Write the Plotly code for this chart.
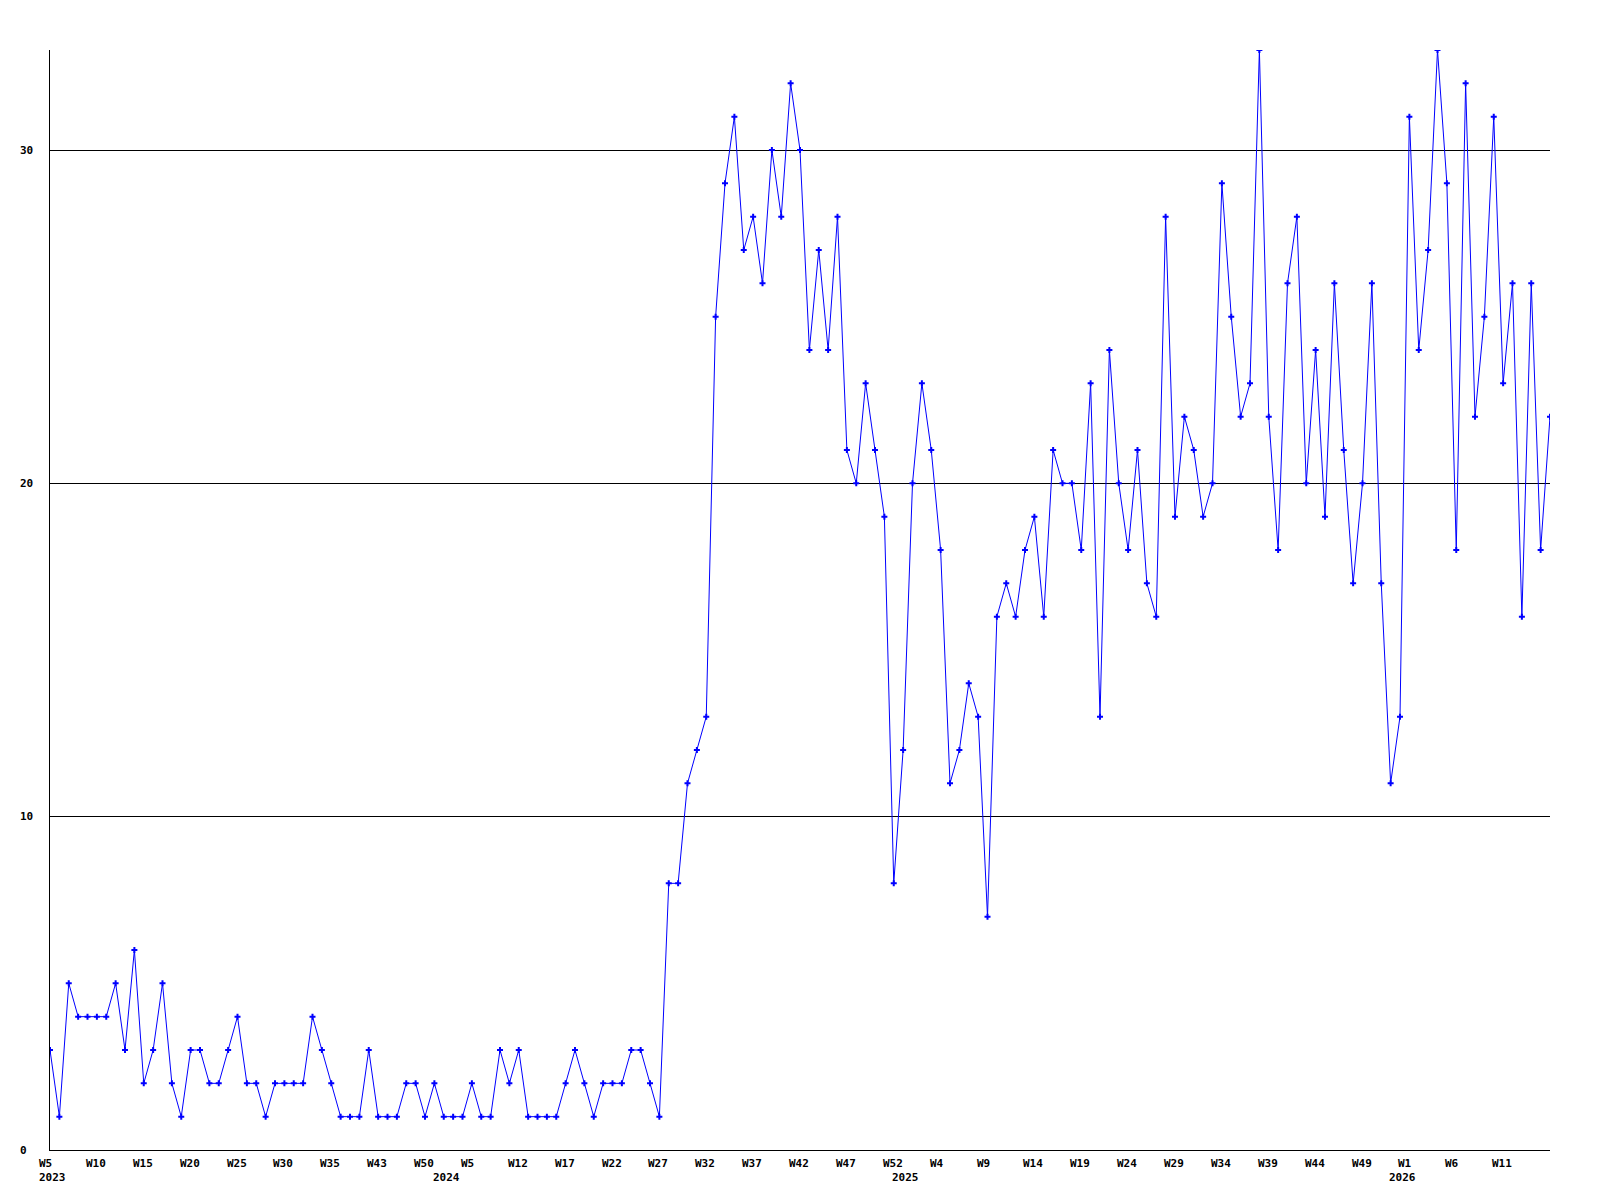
import plotly.graph_objects as go

# Weekly values, 2023 W5 .. 2026 (161 points)
values = [
    3, 1, 5, 4, 4, 4, 4, 5, 3, 6,
    2, 3, 5, 2, 1, 3, 3, 2, 2, 3,
    4, 2, 2, 1, 2, 2, 2, 2, 4, 3,
    2, 1, 1, 1, 3, 1, 1, 1, 2, 2,
    1, 2, 1, 1, 1, 2, 1, 1, 3, 2,
    3, 1, 1, 1, 1, 2, 3, 2, 1, 2,
    2, 2, 3, 3, 2, 1, 8, 8, 11, 12,
    13, 25, 29, 31, 27, 28, 26, 30, 28, 32,
    30, 24, 27, 24, 28, 21, 20, 23, 21, 19,
    8, 12, 20, 23, 21, 18, 11, 12, 14, 13,
    7, 16, 17, 16, 18, 19, 16, 21, 20, 20,
    18, 23, 13, 24, 20, 18, 21, 17, 16, 28,
    19, 22, 21, 19, 20, 29, 25, 22, 23, 33,
    22, 18, 26, 28, 20, 24, 19, 26, 21, 17,
    20, 26, 17, 11, 13, 31, 24, 27, 33, 29,
    18, 32, 22, 25, 31, 23, 26, 16, 26, 18,
    22,
]
x_index = list(range(len(values)))

# Week tick labels (every 5th point)
tick_positions = list(range(0, 156, 5))
tick_labels = ["W5", "W10", "W15", "W20", "W25", "W30", "W35", "W43", "W50",
               "W5", "W12", "W17", "W22", "W27", "W32", "W37", "W42", "W47", "W52",
               "W4", "W9", "W14", "W19", "W24", "W29", "W34", "W39", "W44", "W49",
               "W1", "W6", "W11"]

# Year labels at the first point of each year
year_positions = [0, 42, 91, 144]
year_labels = ["2023", "2024", "2025", "2026"]

# Y axis labels
y_ticks = [0, 10, 20, 30]

FONT = dict(family="DejaVu Sans Mono", size=11, color="black", weight="bold")

fig = go.Figure()
fig.add_trace(go.Scatter(
    x=x_index, y=values, mode="lines+markers",
    line=dict(color="#0000ff", width=1),
    marker=dict(symbol="cross", size=5, color="#0000ff", line=dict(width=0)),
    hoverinfo="skip", showlegend=False,
))

annotations = []
for pos, lab in zip(tick_positions, tick_labels):
    annotations.append(dict(x=pos, xref="x", y=0, yref="paper", text=lab,
                            showarrow=False, xanchor="left", yanchor="middle",
                            xshift=-13, yshift=-13, font=FONT))
for pos, lab in zip(year_positions, year_labels):
    annotations.append(dict(x=pos, xref="x", y=0, yref="paper", text=lab,
                            showarrow=False, xanchor="left", yanchor="middle",
                            xshift=-13, yshift=-27, font=FONT))
for v in y_ticks:
    annotations.append(dict(x=0, xref="paper", y=v, yref="y", text=str(v),
                            showarrow=False, xanchor="left", yanchor="middle",
                            xshift=-32, yshift=0, font=FONT))

fig.update_layout(
    width=1600, height=1200,
    margin=dict(l=50, r=50, t=50, b=50, pad=0),
    paper_bgcolor="white", plot_bgcolor="white",
    annotations=annotations,
    xaxis=dict(range=[0, len(values) - 1], showgrid=False, zeroline=False,
               showline=True, linecolor="black", linewidth=1,
               showticklabels=False, ticks=""),
    yaxis=dict(range=[0, 33], tickvals=y_ticks, showgrid=True,
               gridcolor="black", gridwidth=1, zeroline=False,
               showline=True, linecolor="black", linewidth=1,
               showticklabels=False, ticks=""),
)

fig.write_html("out.html", config={"displayModeBar": False},
               post_script="document.body.style.margin='0';document.body.style.overflow='hidden';")
